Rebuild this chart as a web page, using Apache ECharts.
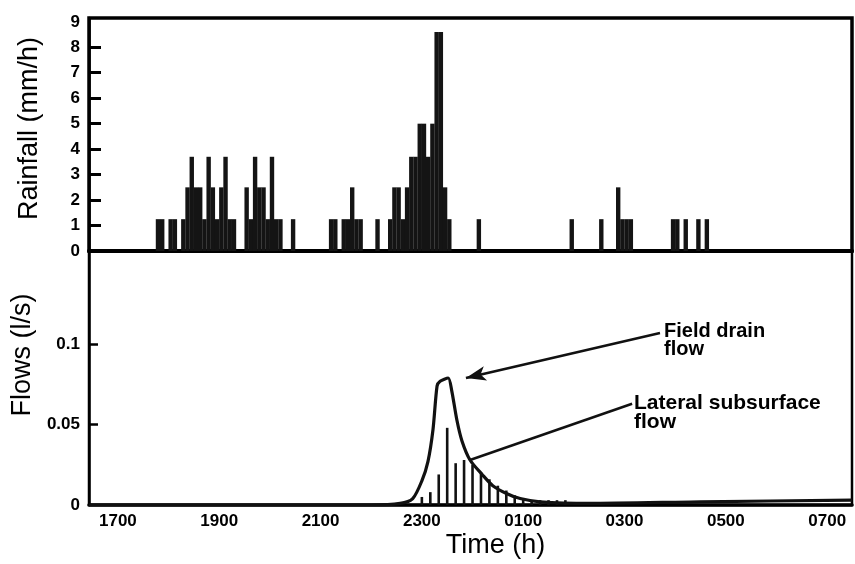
<!DOCTYPE html>
<html>
<head>
<meta charset="utf-8">
<script src="https://cdn.jsdelivr.net/npm/echarts@6/dist/echarts.min.js"></script>
<style>
  html, body { margin: 0; padding: 0; background: #fff; }
  #chart { width: 855px; height: 564px; }
</style>
</head>
<body>
<div id="chart"></div>
<script>
// rainfall: 5-min bins, start minute after 17:00, intensity mm/h
const rainStartMin = [45, 50, 60, 65, 75, 80, 85, 90, 95, 100, 105, 110, 115, 120, 125, 130, 135,
  150, 155, 160, 165, 170, 175, 180, 185, 190, 205,
  250, 255, 265, 270, 275, 280, 285,
  305, 320, 325, 330, 335, 340, 345, 350, 355, 360, 365, 370, 375, 380, 385, 390,
  425, 535, 570, 590, 595, 600, 605, 655, 660, 670, 685, 695];
const rainRate = [1.25, 1.25, 1.25, 1.25, 1.25, 2.5, 3.7, 2.5, 2.5, 1.25, 3.7, 2.5, 1.25, 2.5, 3.7, 1.25, 1.25,
  2.5, 1.25, 3.7, 2.5, 2.5, 1.25, 3.7, 1.25, 1.25, 1.25,
  1.25, 1.25, 1.25, 1.25, 2.5, 1.25, 1.25,
  1.25, 1.25, 2.5, 2.5, 1.25, 2.5, 3.7, 3.7, 5.0, 5.0, 3.7, 5.0, 8.6, 8.6, 2.5, 1.25,
  1.25, 1.25, 1.25, 2.5, 1.25, 1.25, 1.25, 1.25, 1.25, 1.25, 1.25, 1.25];

// field drain flow (l/s), time in hours (24 + h after midnight)
const drainTime = [16.43, 22.0, 22.57, 22.82, 23.0, 23.12, 23.22, 23.3, 23.36, 23.52, 23.59, 23.69,
  23.79, 23.95, 24.19, 24.4, 24.68, 24.94, 25.33, 26.3, 28.5, 31.49];
const drainFlow = [0, 0, 0.001, 0.004, 0.015, 0.027, 0.047, 0.074, 0.077, 0.079, 0.071, 0.053,
  0.040, 0.028, 0.019, 0.012, 0.007, 0.004, 0.002, 0.001, 0.002, 0.003];

// lateral subsurface flow (l/s), 10-min bars
const lateralTime = [23.0, 23.167, 23.333, 23.5, 23.667, 23.833, 24.0, 24.167, 24.333, 24.5, 24.667,
  24.833, 25.0, 25.167, 25.333, 25.5, 25.667, 25.833];
const lateralFlow = [0.005, 0.008, 0.019, 0.048, 0.026, 0.028, 0.025, 0.020, 0.016, 0.012, 0.009,
  0.006, 0.004, 0.003, 0.003, 0.003, 0.003, 0.003];

const timeTicks = [17, 19, 21, 23, 25, 27, 29, 31];
const rainTicks = [0, 1, 2, 3, 4, 5, 6, 7, 8, 9];
const flowTicks = [0, 0.05, 0.1];

const xMin = 16.43, xMax = 31.49;
const font = "'Liberation Sans', Arial, sans-serif";

const rainData = rainStartMin.map((m, i) => [17 + (m + 2.5) / 60, rainRate[i]]);
const drainData = drainTime.map((t, i) => [t, drainFlow[i]]);
const lateralData = lateralTime.map((t, i) => [t, lateralFlow[i]]);

function hhmm(v) {
  const h = Math.round(v) % 24;
  return (h < 10 ? '0' : '') + h + '00';
}

const chart = echarts.init(document.getElementById('chart'));
chart.setOption({
  animation: false,
  backgroundColor: '#fff',
  grid: [
    { left: 89, right: 3, top: 18, height: 233, show: true, borderColor: '#000', borderWidth: 3.5 },
    { left: 89, right: 3, top: 251, bottom: 59, show: true, borderColor: '#000', borderWidth: 2.5 }
  ],
  xAxis: [
    {
      gridIndex: 0, type: 'value', min: xMin, max: xMax,
      axisLine: { show: true, lineStyle: { color: '#000', width: 4 } },
      axisTick: { show: false }, axisLabel: { show: false }, splitLine: { show: false }
    },
    {
      gridIndex: 1, type: 'value', min: xMin, max: xMax,
      name: 'Time (h)', nameLocation: 'middle', nameGap: 27,
      nameTextStyle: { fontFamily: font, fontSize: 27, color: '#000', padding: [0, 0, 0, 50] },
      axisLine: { show: true, lineStyle: { color: '#000', width: 3.5 } },
      axisTick: { show: false },
      axisLabel: {
        customValues: timeTicks, formatter: hhmm, margin: 8,
        fontFamily: font, fontSize: 17, fontWeight: 'bold', color: '#000'
      },
      splitLine: { show: false }
    }
  ],
  yAxis: [
    {
      gridIndex: 0, type: 'value', min: 0, max: 9.15,
      name: 'Rainfall (mm/h)', nameLocation: 'middle', nameGap: 46, nameRotate: 90,
      nameTextStyle: { fontFamily: font, fontSize: 27, color: '#000', padding: [0, 0, 0, 12] },
      axisLine: { show: true, lineStyle: { color: '#000', width: 2.5 } },
      axisTick: { show: true, inside: true, length: 12, customValues: [1, 2, 3, 4, 5, 6, 7, 8], lineStyle: { color: '#000', width: 3 } },
      axisLabel: {
        customValues: rainTicks, margin: 9,
        fontFamily: font, fontSize: 17, fontWeight: 'bold', color: '#000'
      },
      splitLine: { show: false }
    },
    {
      gridIndex: 1, type: 'value', min: 0, max: 0.158,
      name: 'Flows (l/s)', nameLocation: 'middle', nameGap: 46, nameRotate: 90,
      nameTextStyle: { fontFamily: font, fontSize: 27, color: '#000', padding: [0, 0, 0, 46] },
      axisLine: { show: true, lineStyle: { color: '#000', width: 2.5 } },
      axisTick: { show: true, inside: true, length: 9, customValues: [0.05, 0.1], lineStyle: { color: '#000', width: 2.5 } },
      axisLabel: {
        customValues: flowTicks, margin: 9,
        formatter: v => (v === 0 ? '0' : String(v)),
        fontFamily: font, fontSize: 17, fontWeight: 'bold', color: '#000'
      },
      splitLine: { show: false }
    }
  ],
  series: [
    {
      name: 'Rainfall', type: 'bar', xAxisIndex: 0, yAxisIndex: 0,
      data: rainData, barWidth: 4.4,
      itemStyle: { color: '#141414' }
    },
    {
      name: 'Lateral subsurface flow', type: 'bar', xAxisIndex: 1, yAxisIndex: 1,
      data: lateralData, barWidth: 2.6,
      itemStyle: { color: '#111' }
    },
    {
      name: 'Field drain flow', type: 'line', xAxisIndex: 1, yAxisIndex: 1,
      data: drainData, smooth: 0.25, showSymbol: false,
      lineStyle: { color: '#111', width: 3.2 },
      markLine: {
        silent: true, animation: false, label: { show: false },
        data: [
          [
            { coord: [27.7, 0.107], symbol: 'none' },
            { coord: [23.87, 0.079], symbol: 'arrow', symbolSize: [11, 20] }
          ],
          [
            { coord: [27.15, 0.063], symbol: 'none' },
            { coord: [23.95, 0.028], symbol: 'none' }
          ]
        ],
        lineStyle: { color: '#111', width: 2.5, type: 'solid' }
      }
    }
  ],
  graphic: [
    {
      type: 'text', left: 664, top: 321,
      style: { text: 'Field drain\nflow', font: 'bold 20px ' + font, lineHeight: 18, fill: '#000' }
    },
    {
      type: 'text', left: 634, top: 393,
      style: { text: 'Lateral subsurface\nflow', font: 'bold 21px ' + font, lineHeight: 19, fill: '#000' }
    }
  ]
});
</script>
</body>
</html>
